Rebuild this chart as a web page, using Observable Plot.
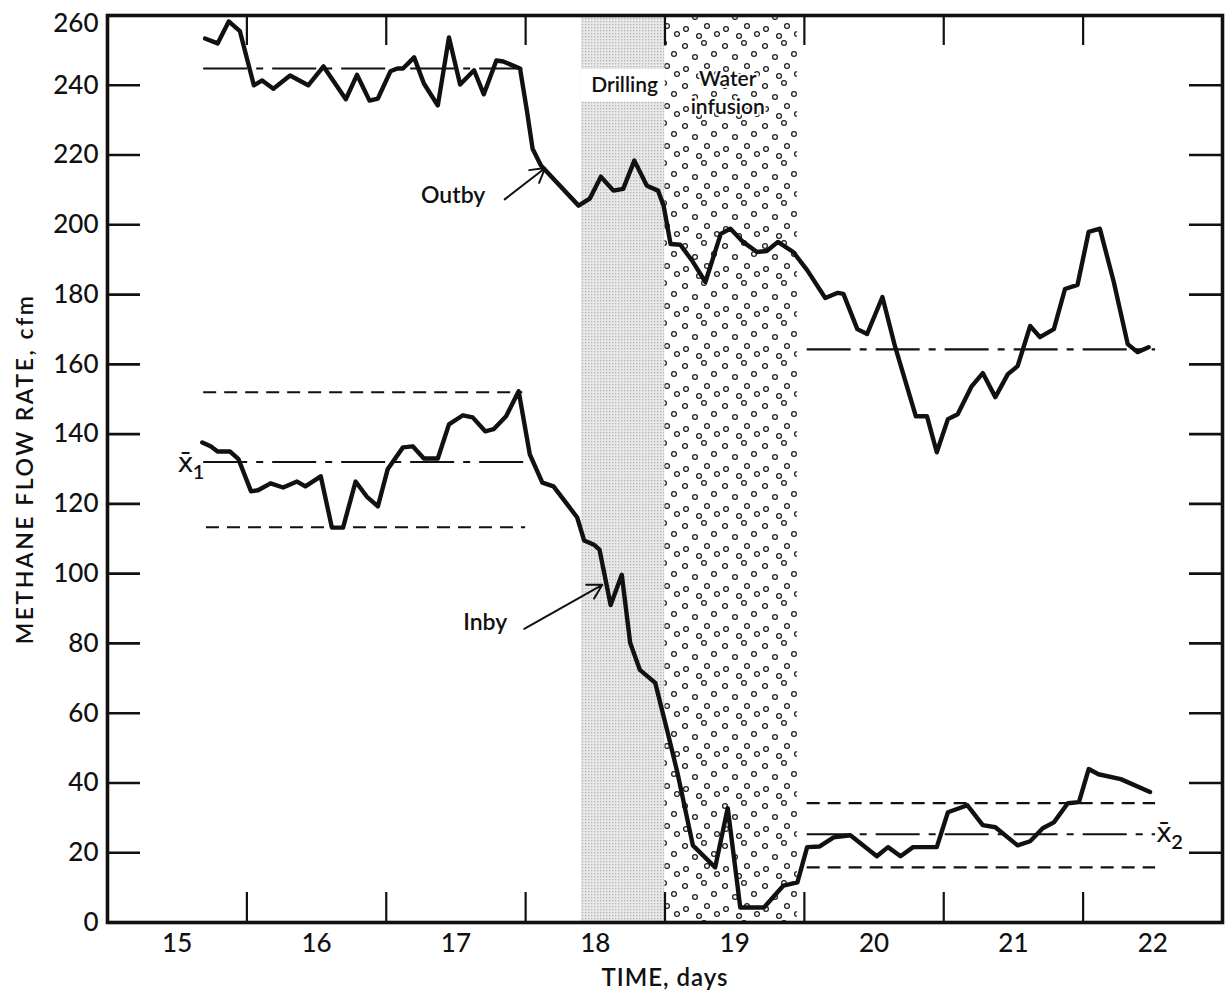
<!DOCTYPE html>
<html><head><meta charset="utf-8">
<script src="https://cdn.jsdelivr.net/npm/d3@7"></script>
<script src="https://cdn.jsdelivr.net/npm/@observablehq/plot@0.6"></script>
<style>
body{margin:0;background:#fff;}
#chart{width:1232px;height:1000px;}
</style></head><body><div id="chart"></div>
<script>
// ---- data ----
const outbyDays = [15.20,15.29,15.37,15.45,15.55,15.61,15.69,15.81,15.94,16.05,16.21,16.29,16.38,16.44,16.53,16.58,16.62,16.70,16.77,16.87,16.95,17.03,17.13,17.20,17.29,17.34,17.46,17.51,17.55,17.61,17.88,17.96,18.04,18.13,18.20,18.28,18.37,18.45,18.49,18.54,18.61,18.70,18.79,18.90,18.97,19.06,19.16,19.23,19.31,19.42,19.52,19.65,19.74,19.78,19.88,19.95,20.06,20.15,20.30,20.38,20.45,20.53,20.60,20.70,20.78,20.87,20.96,21.03,21.12,21.19,21.29,21.37,21.46,21.54,21.62,21.72,21.82,21.89,21.97];
const outbyCfm  = [253.4,252,258.3,255.5,240,241.4,239,242.8,240,245.4,236,243,235.6,236.2,244,244.8,244.8,248,240.5,234.2,253.7,240.2,244.3,237.4,247.1,246.8,244.8,232.5,221.8,217,205.5,207.5,213.8,209.8,210.3,218.4,211.2,209.8,205.5,194.5,194.3,189.4,183.6,197.4,198.9,195.1,192.2,192.5,195.1,192.2,187,179,180.5,180.2,170.1,168.7,179.3,165.2,145.1,145.1,134.8,144.3,145.7,153.7,157.5,150.6,157.2,159.5,171,167.8,170.1,181.6,182.8,198,198.9,183.6,165.8,163.5,164.9];
const inbyDays = [15.18,15.24,15.29,15.38,15.44,15.53,15.58,15.67,15.76,15.86,15.92,16.03,16.11,16.19,16.28,16.36,16.44,16.51,16.62,16.69,16.77,16.87,16.95,17.05,17.12,17.21,17.27,17.36,17.45,17.53,17.62,17.70,17.80,17.87,17.92,17.99,18.03,18.11,18.19,18.25,18.32,18.43,18.52,18.59,18.70,18.86,18.95,19.04,19.21,19.35,19.45,19.52,19.61,19.71,19.83,20.02,20.10,20.19,20.28,20.45,20.53,20.67,20.78,20.87,21.03,21.12,21.21,21.29,21.39,21.47,21.54,21.61,21.77,21.98];
const inbyCfm  = [137.6,136.5,135,135,132.8,123.6,123.9,125.9,124.7,126.4,125,127.9,113.2,113.2,126.4,122.1,119.3,129.9,136.2,136.5,133,133,142.8,145.4,144.8,140.8,141.4,145.1,152.3,134.2,126.1,125,119.8,116.1,109.5,108.3,106.9,91,99.7,80.2,72.4,68.7,54.3,42.8,22.1,15.8,32.8,4.3,4.3,10.6,11.5,21.6,21.8,24.4,25,19,21.6,19,21.6,21.6,31.6,33.6,27.9,27.3,22.1,23.3,27,28.7,34.2,34.5,44,42.5,41.1,37.4];

// reference lines: mean (dash-dot) and limits (dashed)
const refKind  = ["mean","mean","limit","mean","limit","limit","mean","limit"];
const refFrom  = [15.19,19.52,15.19,15.19,15.21,19.52,19.52,19.52];
const refTo    = [17.48,22.02,17.48,17.50,17.50,22.02,22.02,22.02];
const refValue = [244.8,164.3,152.0,132.0,113.3,34.2,25.3,15.8];

const yTicks = [0,20,40,60,80,100,120,140,160,180,200,220,240,260];
const dayLabels = [15,16,17,18,19,20,21,22];
const halfDayTicks = [15.5,16.5,17.5,18.5,19.5,20.5,21.5];

const phaseNames = ["Drilling","Water infusion"];
const phaseStart = [17.90, 18.50];
const phaseEnd   = [18.50, 19.45];

// annotations
const seriesLabels = ["Outby","Inby"];
const labelDay = [16.98, 17.21];
const labelCfm = [208.5, 86.0];
const arrowFromDay = [17.35, 17.49];
const arrowFromCfm = [207.3, 84.2];
const arrowToDay   = [17.64, 18.05];
const arrowToCfm   = [216.3, 96.8];

const phaseLabelText = ["Drilling","Water","infusion"];
const phaseLabelDay  = [18.21, 18.95, 18.95];
const phaseLabelCfm  = [240.0, 241.6, 233.8];

const meanLabelDay = [15.06, 22.08];
const meanLabelCfm = [131.5, 25.5];
const meanLabelSub = ["1","2"];

// ---- tables built from the arrays ----
const outby = outbyDays.map((d,i)=>({day:d, cfm:outbyCfm[i]}));
const inby = inbyDays.map((d,i)=>({day:d, cfm:inbyCfm[i]}));
const refs = refKind.map((k,i)=>({kind:k, from:refFrom[i], to:refTo[i], v:refValue[i]}));
const phases = phaseNames.map((n,i)=>({name:n, start:phaseStart[i], end:phaseEnd[i]}));
const sLabels = seriesLabels.map((t,i)=>({t, day:labelDay[i], cfm:labelCfm[i]}));
const arrows = seriesLabels.map((t,i)=>({x1:arrowFromDay[i], y1:arrowFromCfm[i], x2:arrowToDay[i], y2:arrowToCfm[i]}));
const pLabels = phaseLabelText.map((t,i)=>({t, day:phaseLabelDay[i], cfm:phaseLabelCfm[i]}));
const mLabels = meanLabelDay.map((d,i)=>({day:d, cfm:meanLabelCfm[i], sub:meanLabelSub[i]}));

const INK = "#111";
const FONT = "Lato, 'DejaVu Sans', sans-serif";
const yTitle = "METHANE FLOW RATE, cfm";
const xTitle = "TIME, days";
const topTick = yTicks[yTicks.length - 1];

const svg = Plot.plot({
  width: 1232, height: 1000,
  marginLeft: 107, marginRight: 10, marginTop: 15, marginBottom: 78,
  x: {domain: [14.5, 22.5]},
  y: {domain: [0, 260]},
  style: {fontFamily: FONT, color: INK, background: "#fff", fontSize: "24px"},
  marks: [
    // phase backgrounds
    Plot.rect([phases[0]], {x1: "start", x2: "end", fill: "url(#halftone)"}),
    Plot.rect([phases[1]], {x1: "start", x2: "end", fill: "url(#dots)"}),
    Plot.rect([phases[0]], {x1: "start", x2: "end", y1: () => 235.2, y2: () => 244.5, fill: "#fff"}),
    // reference lines
    Plot.ruleY(refs.filter(d => d.kind === "limit"), {y: "v", x1: "from", x2: "to", stroke: INK, strokeWidth: 2.2, strokeDasharray: "13,8"}),
    Plot.ruleY(refs.filter(d => d.kind === "mean"), {y: "v", x1: "from", x2: "to", stroke: INK, strokeWidth: 2.2, strokeDasharray: "44,9,7,9"}),
    // series
    Plot.line(outby, {x: "day", y: "cfm", stroke: INK, strokeWidth: 4.4, strokeLinejoin: "round", strokeLinecap: "round"}),
    Plot.line(inby, {x: "day", y: "cfm", stroke: INK, strokeWidth: 4.4, strokeLinejoin: "round", strokeLinecap: "round"}),
    // inward ticks
    Plot.tickX(halfDayTicks, {x: d => d, insetTop: 877, stroke: INK, strokeWidth: 2.2}),
    Plot.tickX(halfDayTicks, {x: d => d, insetBottom: 877, stroke: INK, strokeWidth: 2.2}),
    Plot.tickY(yTicks.filter(d => d > 0 && d < 260), {y: d => d, insetRight: 1082, stroke: INK, strokeWidth: 2.6}),
    Plot.tickY(yTicks.filter(d => d > 0 && d < 260), {y: d => d, insetLeft: 1082, stroke: INK, strokeWidth: 2.6}),
    Plot.frame({stroke: INK, strokeWidth: 3.6}),
    // axes
    Plot.axisY({ticks: yTicks.filter(d => d !== topTick), tickSize: 0, tickPadding: 9, label: null, fontSize: 26, fontWeight: 500}),
    Plot.axisY({ticks: [topTick], tickSize: 0, tickPadding: 9, dy: 8, label: null, fontSize: 26, fontWeight: 500}),
    Plot.axisX({ticks: dayLabels, tickSize: 0, tickPadding: 11, label: null, fontSize: 26, fontWeight: 500}),
    // titles
    Plot.text([yTitle], {frameAnchor: "left", dx: -82, rotate: -90, textAnchor: "middle", text: d => d, fontSize: 23, fill: INK, fontWeight: 600}),
    Plot.text([xTitle], {frameAnchor: "bottom", dy: 63, text: d => d, fontSize: 24, fill: INK, fontWeight: 600}),
    // annotations
    Plot.text(sLabels, {x: "day", y: "cfm", text: "t", fontSize: 23, fill: INK, fontWeight: 600}),
    Plot.arrow(arrows, {x1: "x1", y1: "y1", x2: "x2", y2: "y2", stroke: INK, strokeWidth: 2, headLength: 12}),
    Plot.text(pLabels, {x: "day", y: "cfm", text: "t", fontSize: 21, fill: INK, fontWeight: 600, stroke: "#fff", strokeWidth: 4, paintOrder: "stroke"}),
    Plot.text(mLabels, {x: "day", y: "cfm", text: () => "x\u0304", fontFamily: "DejaVu Sans", fontSize: 27, fill: INK}),
    Plot.text(mLabels, {x: "day", y: "cfm", text: "sub", dx: 13, dy: 9, fontSize: 20, fill: INK, fontWeight: 600})
  ]
});

// patterns for the phase backgrounds
const defs = d3.select(svg).insert("defs", ":first-child");
const ht = defs.append("pattern").attr("id", "halftone").attr("patternUnits", "userSpaceOnUse")
  .attr("width", 3).attr("height", 3);
ht.append("rect").attr("width", 3).attr("height", 3).attr("fill", "#e8e8e8");
ht.append("rect").attr("x", 0).attr("y", 0).attr("width", 1.3).attr("height", 1.3).attr("fill", "#b4b4b4");
const dots = defs.append("pattern").attr("id", "dots").attr("patternUnits", "userSpaceOnUse")
  .attr("width", 40).attr("height", 40);
dots.append("rect").attr("width", 40).attr("height", 40).attr("fill", "#fff");
[[5,6],[24,3],[15,17],[34,14],[6,29],[27,26],[19,36],[37,34]].forEach(([cx,cy]) =>
  dots.append("circle").attr("cx", cx).attr("cy", cy).attr("r", 2.4)
    .attr("fill", "none").attr("stroke", "#222").attr("stroke-width", 1.3));

d3.select(svg).selectAll("text").filter(function(){ return this.textContent === yTitle; })
  .attr("letter-spacing", "2.5px");
d3.select(svg).selectAll("text").filter(function(){ return this.textContent === xTitle; })
  .attr("letter-spacing", "1px");

document.getElementById("chart").appendChild(svg);
</script>
</body></html>
